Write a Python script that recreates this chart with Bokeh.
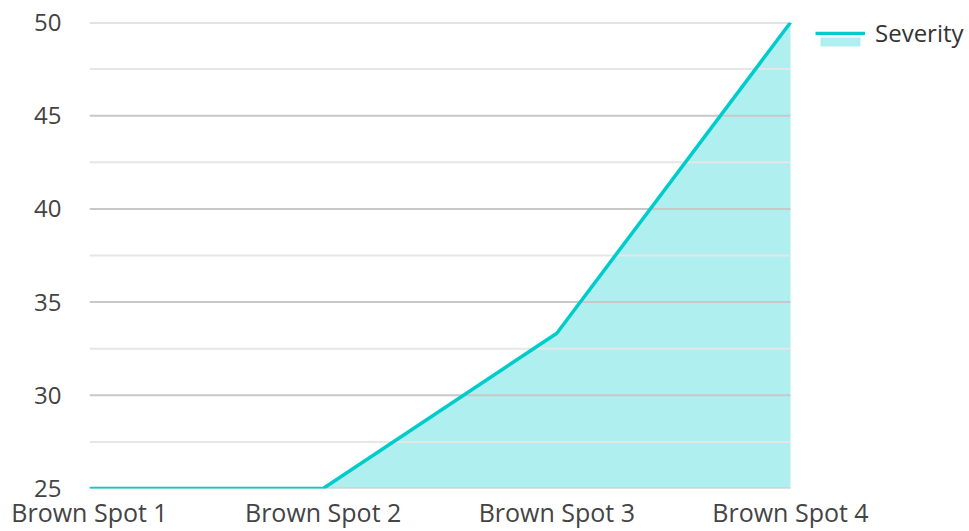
from bokeh.plotting import figure
from bokeh.models import Legend, LegendItem, Range1d, FixedTicker, ColumnDataSource
from bokeh.embed import file_html
from bokeh.resources import INLINE

categories = ["Brown Spot 1", "Brown Spot 2", "Brown Spot 3", "Brown Spot 4"]
severity = [25, 25, 33.33, 50]
y_ticks = [25, 30, 35, 40, 45, 50]
y_minor = [27.5, 32.5, 37.5, 42.5, 47.5]

xs = list(range(len(categories)))
x_last = len(categories) - 1
src = ColumnDataSource(dict(x=xs, y=severity, base=[25] * len(xs)))

FONT = "Open Sans"
TEAL = "#00CCCC"

# plot area of the data spans 89..790 px; the frame continues to the right edge for the legend
W, LEFT, DATA_RIGHT = 969, 89, 790
unit = (DATA_RIGHT - LEFT) / x_last
x_end = x_last + (W - DATA_RIGHT) / unit

p = figure(width=W, height=531, output_backend="svg", toolbar_location=None,
           x_range=Range1d(0, x_end), y_range=Range1d(25, 50),
           min_border_left=LEFT, min_border_right=0, min_border_top=22, min_border_bottom=43)
p.outline_line_color = None
p.xgrid.visible = False
p.ygrid.visible = False

area = p.varea(x="x", y1="base", y2="y", source=src, fill_color=TEAL, fill_alpha=0.31)
p.segment(x0=[0] * len(y_minor), x1=[x_last] * len(y_minor), y0=y_minor, y1=y_minor,
          line_color="#e6e6e6", line_width=2)
p.segment(x0=[0] * len(y_ticks), x1=[x_last] * len(y_ticks), y0=y_ticks, y1=y_ticks,
          line_color="#c8c8c8", line_width=2)
line = p.line(x="x", y="y", source=src, line_color=TEAL, line_width=3.5)

p.yaxis.ticker = FixedTicker(ticks=y_ticks)
p.xaxis.ticker = FixedTicker(ticks=xs)
p.xaxis.major_label_overrides = {i: c for i, c in enumerate(categories)}
for ax in (p.xaxis[0], p.yaxis[0]):
    ax.axis_line_color = None
    ax.major_tick_line_color = None
    ax.minor_tick_line_color = None
    ax.major_label_text_font = FONT
    ax.major_label_text_font_size = "24px"
    ax.major_label_text_color = "#444444"
p.xaxis.major_label_text_font_size = "25px"
p.yaxis.major_label_standoff = 22
p.xaxis.major_label_standoff = 0

common = dict(label_text_font=FONT, label_text_font_size="24px", label_text_color="#333333",
              glyph_width=50, background_fill_alpha=0, border_line_color=None,
              padding=0, margin=0, label_standoff=10)
legend_fill = Legend(items=[LegendItem(label=" ", renderers=[area])],
                     location=(726, 441), glyph_height=11, **common)
legend_line = Legend(items=[LegendItem(label="Severity", renderers=[line])],
                     location=(726, 439), glyph_height=4, **common)
p.add_layout(legend_fill, "center")
p.add_layout(legend_line, "center")

open("out.html", "w").write(file_html(p, INLINE))
